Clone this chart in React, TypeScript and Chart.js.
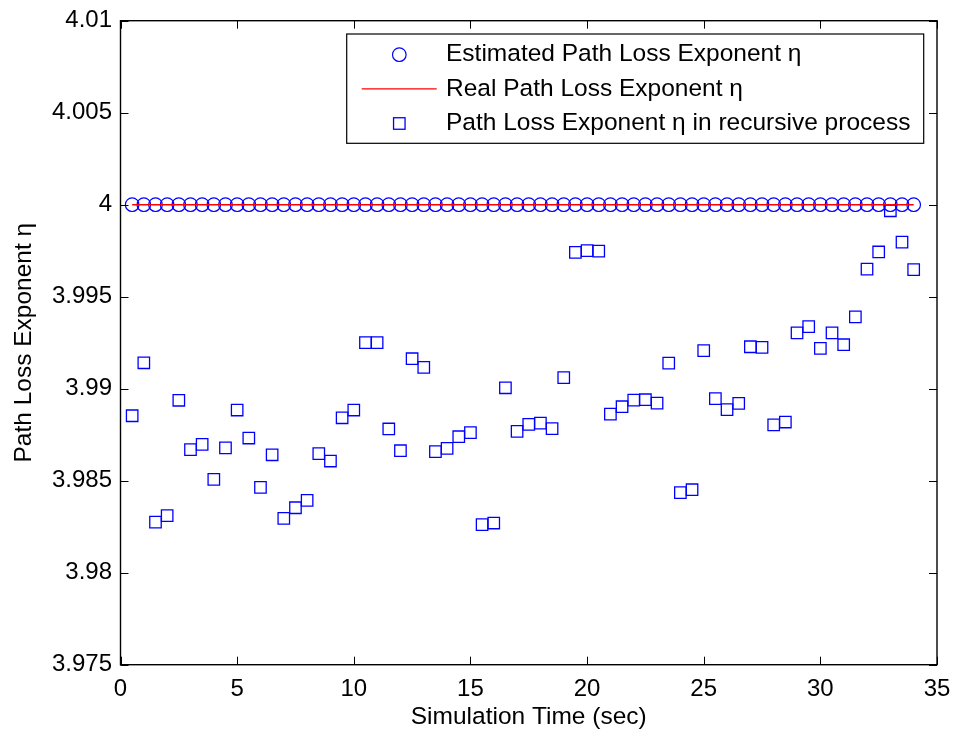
import React, { useEffect, useRef } from 'react';
import { Chart, registerables } from 'chart.js';

Chart.register(...registerables);

// ---- data ----
const times = [
  0.5, 1, 1.5, 2, 2.5, 3, 3.5, 4, 4.5, 5, 5.5, 6, 6.5, 7, 7.5, 8, 8.5,
  9, 9.5, 10, 10.5, 11, 11.5, 12, 12.5, 13, 13.5, 14, 14.5, 15, 15.5, 16, 16.5,
  17, 17.5, 18, 18.5, 19, 19.5, 20, 20.5, 21, 21.5, 22, 22.5, 23, 23.5, 24, 24.5,
  25, 25.5, 26, 26.5, 27, 27.5, 28, 28.5, 29, 29.5, 30, 30.5, 31, 31.5, 32, 32.5,
  33, 33.5, 34,
];

const estimatedEta = [
  4, 4, 4, 4, 4, 4, 4, 4, 4, 4, 4, 4, 4, 4, 4, 4, 4,
  4, 4, 4, 4, 4, 4, 4, 4, 4, 4, 4, 4, 4, 4, 4, 4,
  4, 4, 4, 4, 4, 4, 4, 4, 4, 4, 4, 4, 4, 4, 4, 4,
  4, 4, 4, 4, 4, 4, 4, 4, 4, 4, 4, 4, 4, 4, 4, 4,
  4, 4, 4,
];

const realEta = [
  4, 4, 4, 4, 4, 4, 4, 4, 4, 4, 4, 4, 4, 4, 4, 4, 4,
  4, 4, 4, 4, 4, 4, 4, 4, 4, 4, 4, 4, 4, 4, 4, 4,
  4, 4, 4, 4, 4, 4, 4, 4, 4, 4, 4, 4, 4, 4, 4, 4,
  4, 4, 4, 4, 4, 4, 4, 4, 4, 4, 4, 4, 4, 4, 4, 4,
  4, 4, 4,
];

const recursiveEta = [
  3.98853, 3.99141, 3.98275, 3.9831, 3.98937, 3.98669, 3.98697, 3.98507, 3.98678,
  3.98884, 3.98732, 3.98464, 3.98641, 3.98295, 3.98353, 3.98393, 3.98647,
  3.98607, 3.98842, 3.98884, 3.9925, 3.9925, 3.98781, 3.98663, 3.99163,
  3.99116, 3.98658, 3.98676, 3.98739, 3.98761, 3.98261, 3.9827, 3.99005,
  3.98768, 3.98806, 3.98813, 3.98783, 3.9906, 3.99741, 3.9975, 3.99748,
  3.98862, 3.98902, 3.98938, 3.9894, 3.98922, 3.99139, 3.98435, 3.98451,
  3.99207, 3.98946, 3.98886, 3.9892, 3.99228, 3.99225, 3.98803, 3.98819,
  3.99303, 3.99337, 3.99219, 3.99303, 3.99239, 3.9939, 3.9965, 3.99743,
  3.99967, 3.99797, 3.99647,
];

const seriesLabels = [
  'Estimated Path Loss Exponent η',
  'Real Path Loss Exponent η',
  'Path Loss Exponent η in recursive process',
];

const xTickValues = [0, 5, 10, 15, 20, 25, 30, 35];
const xTickLabels = ['0', '5', '10', '15', '20', '25', '30', '35'];
const yTickValues = [3.975, 3.98, 3.985, 3.99, 3.995, 4, 4.005, 4.01];
const yTickLabels = ['3.975', '3.98', '3.985', '3.99', '3.995', '4', '4.005', '4.01'];

const xTitle = 'Simulation Time (sec)';
const yTitle = 'Path Loss Exponent η';

// ---- styles ----
const FONT_FAMILY = '"Liberation Sans", Arial, Helvetica, sans-serif';
const TICK_SIZE = 24;
const TEXT_SIZE = 24.5;
const BLUE = '#0000ff';
const RED = '#ff0000';

const frameAndTicksPlugin = {
  id: 'frameAndTicks',
  afterDatasetsDraw(chart: any) {
    const { ctx, chartArea: a, scales } = chart;
    const xs = scales.x;
    const ys = scales.y;
    const len = 8;
    ctx.save();
    ctx.strokeStyle = '#000';
    ctx.lineWidth = 1;
    ctx.beginPath();
    xs.ticks.forEach((t: any) => {
      const px = Math.round(xs.getPixelForValue(t.value)) + 0.5;
      ctx.moveTo(px, a.bottom);
      ctx.lineTo(px, a.bottom - len);
      ctx.moveTo(px, a.top);
      ctx.lineTo(px, a.top + len);
    });
    ys.ticks.forEach((t: any) => {
      const py = Math.round(ys.getPixelForValue(t.value)) + 0.5;
      ctx.moveTo(a.left, py);
      ctx.lineTo(a.left + len, py);
      ctx.moveTo(a.right, py);
      ctx.lineTo(a.right - len, py);
    });
    ctx.stroke();
    ctx.lineWidth = 1.4;
    ctx.strokeRect(a.left, a.top, a.right - a.left, a.bottom - a.top);
    ctx.restore();
  },
};

const legendPlugin = {
  id: 'insideLegend',
  afterDraw(chart: any) {
    const { ctx, chartArea: a } = chart;
    const w = 577;
    const h = 109.3;
    const right = a.right - 13.3;
    const top = a.top + 13.3;
    const left = right - w;
    const rows = [top + 20.7, top + 54.8, top + 89.5];
    const mx = left + 52.6;
    ctx.save();
    ctx.fillStyle = '#fff';
    ctx.fillRect(left, top, w, h);
    ctx.strokeStyle = '#000';
    ctx.lineWidth = 1.2;
    ctx.strokeRect(left, top, w, h);

    // circle marker
    ctx.strokeStyle = BLUE;
    ctx.lineWidth = 1.2;
    ctx.beginPath();
    ctx.arc(mx, rows[0], 6.8, 0, Math.PI * 2);
    ctx.stroke();
    // line marker
    ctx.strokeStyle = RED;
    ctx.lineWidth = 1.3;
    ctx.beginPath();
    ctx.moveTo(left + 15, rows[1]);
    ctx.lineTo(left + 90, rows[1]);
    ctx.stroke();
    // square marker
    ctx.strokeStyle = BLUE;
    ctx.lineWidth = 1.3;
    const s = 11.5;
    ctx.strokeRect(mx - s / 2, rows[2] - s / 2, s, s);

    ctx.fillStyle = '#000';
    ctx.font = `${TEXT_SIZE}px ${FONT_FAMILY}`;
    ctx.textAlign = 'left';
    ctx.textBaseline = 'middle';
    chart.data.datasets.forEach((ds: any, i: number) => {
      ctx.fillText(ds.label, left + 99.3, rows[i]);
    });
    ctx.restore();
  },
};

export default function App() {
  const canvasRef = useRef<HTMLCanvasElement | null>(null);

  useEffect(() => {
    const canvas = canvasRef.current;
    if (!canvas) return;
    const tickFont = { family: FONT_FAMILY, size: TICK_SIZE };
    const titleFont = { family: FONT_FAMILY, size: TEXT_SIZE };

    const chart = new Chart(canvas, {
      type: 'scatter',
      data: {
        datasets: [
          {
            label: seriesLabels[0],
            data: times.map((t, i) => ({ x: t, y: estimatedEta[i] })),
            pointStyle: 'circle',
            pointRadius: 6.8,
            pointBorderWidth: 1.2,
            borderColor: BLUE,
            backgroundColor: 'rgba(0,0,0,0)',
            showLine: false,
            order: 2,
          },
          {
            label: seriesLabels[1],
            data: times.map((t, i) => ({ x: t, y: realEta[i] })),
            pointRadius: 0,
            borderColor: RED,
            borderWidth: 1.5,
            backgroundColor: RED,
            showLine: true,
            order: 1,
          },
          {
            label: seriesLabels[2],
            data: times.map((t, i) => ({ x: t, y: recursiveEta[i] })),
            pointStyle: 'rect',
            pointRadius: 8.1,
            pointBorderWidth: 1.3,
            borderColor: BLUE,
            backgroundColor: 'rgba(0,0,0,0)',
            showLine: false,
            order: 3,
          },
        ],
      },
      options: {
        animation: false,
        responsive: false,
        maintainAspectRatio: false,
        devicePixelRatio: 1,
        layout: { padding: { top: 20.7, right: 19, left: 0, bottom: 0 } },
        plugins: {
          legend: { display: false },
          tooltip: { enabled: false },
          title: { display: false },
        },
        scales: {
          x: {
            type: 'linear',
            min: 0,
            max: 35,
            grid: { display: false, drawTicks: false },
            border: { display: false },
            afterBuildTicks: (s: any) => {
              s.ticks = xTickValues.map((v) => ({ value: v }));
            },
            afterFit: (s: any) => {
              s.height = 71.3;
              s.paddingLeft = 0;
              s.paddingRight = 0;
            },
            ticks: {
              autoSkip: false,
              maxRotation: 0,
              color: '#000',
              font: tickFont,
              padding: 10,
              callback: (_v: any, i: number) => xTickLabels[i],
            },
            title: {
              display: true,
              text: xTitle,
              color: '#000',
              font: titleFont,
              padding: { top: 0, bottom: 4 },
            },
          },
          y: {
            type: 'linear',
            min: 3.975,
            max: 4.01,
            grid: { display: false, drawTicks: false },
            border: { display: false },
            afterBuildTicks: (s: any) => {
              s.ticks = yTickValues.map((v) => ({ value: v }));
            },
            afterFit: (s: any) => {
              s.width = 120.5;
              s.paddingTop = 0;
              s.paddingBottom = 0;
            },
            ticks: {
              autoSkip: false,
              color: '#000',
              font: tickFont,
              padding: 8.5,
              callback: (_v: any, i: number) => yTickLabels[i],
            },
            title: {
              display: true,
              text: yTitle,
              color: '#000',
              font: titleFont,
              padding: { top: 10, bottom: 0 },
            },
          },
        },
      },
      plugins: [frameAndTicksPlugin, legendPlugin],
    } as any);

    return () => {
      chart.destroy();
    };
  }, []);

  return (
    <div
      style={{
        position: 'absolute',
        left: 0,
        top: 0,
        width: 956,
        height: 736,
        background: '#fff',
      }}
    >
      <canvas ref={canvasRef} width={956} height={736} style={{ width: 956, height: 736 }} />
    </div>
  );
}
